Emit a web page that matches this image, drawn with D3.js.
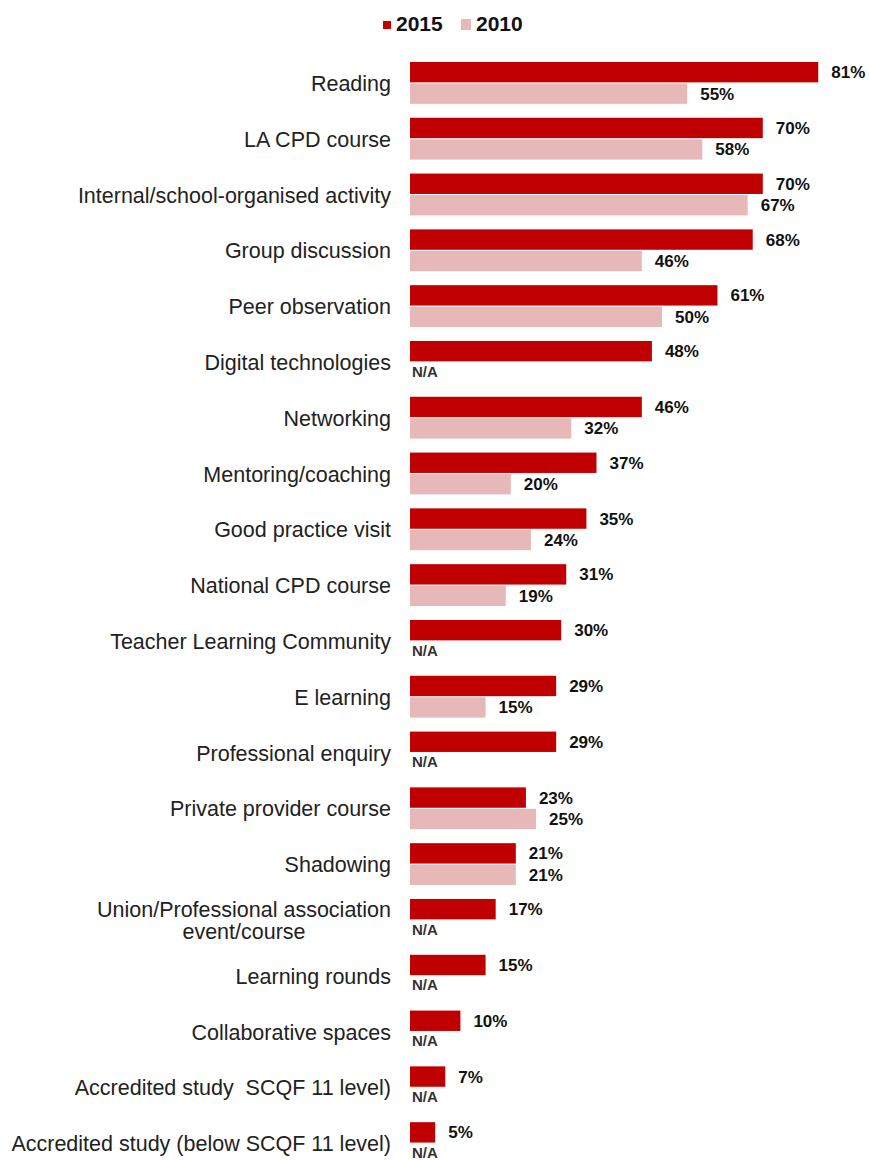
<!DOCTYPE html>
<html>
<head>
<meta charset="utf-8">
<script src="https://cdn.jsdelivr.net/npm/d3@7"></script>
<style>
  body { margin: 0; background: white; }
  svg { font-family: "Liberation Sans", Arial, sans-serif; }
</style>
</head>
<body>
<div id="chart"></div>
<script>
const categories = [
  "Reading", "LA CPD course", "Internal/school-organised activity", "Group discussion",
  "Peer observation", "Digital technologies", "Networking", "Mentoring/coaching",
  "Good practice visit", "National CPD course", "Teacher Learning Community", "E learning",
  "Professional enquiry", "Private provider course", "Shadowing",
  "Union/Professional association event/course", "Learning rounds", "Collaborative spaces",
  "Accredited study  SCQF 11 level)", "Accredited study (below SCQF 11 level)"
];
const values2015 = [81, 70, 70, 68, 61, 48, 46, 37, 35, 31, 30, 29, 29, 23, 21, 17, 15, 10, 7, 5];
const values2010 = [55, 58, 67, 46, 50, null, 32, 20, 24, 19, null, 15, null, 25, 21, null, null, null, null, null];
const seriesNames = ["2015", "2010"];
const colors = ["#C00000", "#E6B9B8"];

const width = 869, height = 1160;
const x0 = 410;

const svg = d3.select("#chart").append("svg")
  .attr("width", width)
  .attr("height", height);

const x = d3.scaleLinear([0, 100], [x0, x0 + 504]);
const y = d3.scaleBand(categories, [55, 55 + 20 * 55.8]).paddingInner(0.25).paddingOuter(0.125);
const ySub = d3.scaleBand(seriesNames, [0, y.bandwidth()]).paddingInner(0.05);

// legend
const legend = svg.append("g");
legend.append("rect").attr("x", 383).attr("y", 21).attr("width", 8).attr("height", 8).attr("fill", colors[0]);
legend.append("text").attr("x", 396).attr("y", 31).attr("font-size", 21).attr("font-weight", "bold").attr("fill", "#111").text(seriesNames[0]);
legend.append("rect").attr("x", 461).attr("y", 19).attr("width", 10).attr("height", 11).attr("fill", colors[1]);
legend.append("text").attr("x", 476).attr("y", 31).attr("font-size", 21).attr("font-weight", "bold").attr("fill", "#111").text(seriesNames[1]);

// category labels
const labels = svg.append("g");
categories.forEach(c => {
  const cy = y(c) + y.bandwidth() / 2;
  const t = labels.append("text")
    .attr("x", 391)
    .attr("text-anchor", "end")
    .attr("font-size", 21.5)
    .attr("fill", "#222")
    .style("white-space", "pre");
  if (c.startsWith("Union/")) {
    // two lines, centred on each other
    const l1 = t.append("tspan").attr("x", 391).attr("y", cy - 3).text("Union/Professional association");
    const w = l1.node().getComputedTextLength();
    t.attr("text-anchor", "middle");
    l1.attr("x", 391 - w / 2);
    t.append("tspan").attr("x", 391 - w / 2).attr("y", cy + 19).text("event/course");
  } else {
    t.attr("y", cy + 8).text(c);
  }
});

const rows = categories.map((c, i) => ({ cat: c, vals: [values2015[i], values2010[i]] }));

rows.forEach(r => {
  r.vals.forEach((v, j) => {
    const by = y(r.cat) + ySub(seriesNames[j]);
    const bh = ySub.bandwidth();
    if (v === null) {
      svg.append("text")
        .attr("x", x0 + 2)
        .attr("y", by + bh / 2 + 4)
        .attr("font-size", 15)
        .attr("font-weight", "bold")
        .attr("fill", "#333")
        .text("N/A");
      return;
    }
    svg.append("rect")
      .attr("x", x(0))
      .attr("y", by)
      .attr("width", x(v) - x(0))
      .attr("height", bh)
      .attr("fill", colors[j]);
    svg.append("text")
      .attr("x", x(v) + 13)
      .attr("y", by + bh / 2 + 6)
      .attr("font-size", 17)
      .attr("font-weight", "bold")
      .attr("fill", "#111")
      .text(v + "%");
  });
});
</script>
</body>
</html>
